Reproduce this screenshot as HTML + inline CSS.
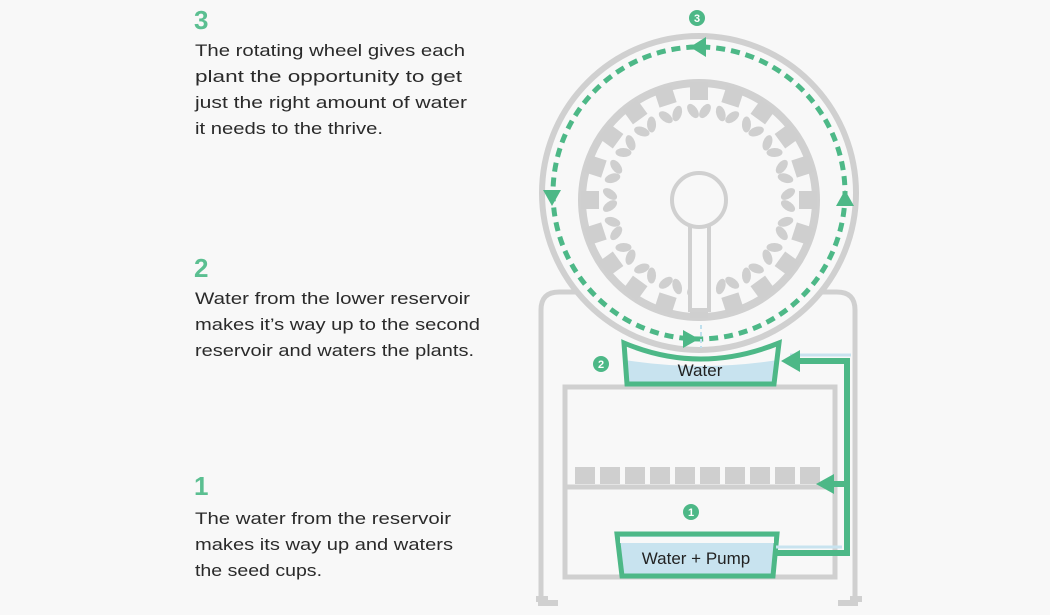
<!DOCTYPE html>
<html><head><meta charset="utf-8"><style>
html,body{margin:0;padding:0;background:#f8f8f8;}
svg{display:block;}
.b{font-family:"Liberation Sans",sans-serif;font-size:17px;fill:#2a2a2a;}
.h{font-family:"Liberation Sans",sans-serif;font-size:26px;font-weight:bold;fill:#5bbf91;}
.n{font-family:"Liberation Sans",sans-serif;font-size:11px;font-weight:bold;fill:#fff;text-anchor:middle;}
</style></head><body>
<svg width="1050" height="615" viewBox="0 0 1050 615" xmlns="http://www.w3.org/2000/svg">
<rect width="1050" height="615" fill="#f8f8f8"/>
<text class="h" x="194" y="29">3</text>
<text class="b" x="195" y="56" textLength="270" lengthAdjust="spacingAndGlyphs">The rotating wheel gives each</text>
<text class="b" x="195" y="82" textLength="267" lengthAdjust="spacingAndGlyphs">plant the opportunity to get</text>
<text class="b" x="195" y="108" textLength="272" lengthAdjust="spacingAndGlyphs">just the right amount of water</text>
<text class="b" x="195" y="134" textLength="188" lengthAdjust="spacingAndGlyphs">it needs to the thrive.</text>
<text class="h" x="194" y="277">2</text>
<text class="b" x="195" y="304" textLength="275" lengthAdjust="spacingAndGlyphs">Water from the lower reservoir</text>
<text class="b" x="195" y="330" textLength="285" lengthAdjust="spacingAndGlyphs">makes it’s way up to the second</text>
<text class="b" x="195" y="356" textLength="279" lengthAdjust="spacingAndGlyphs">reservoir and waters the plants.</text>
<text class="h" x="194" y="495">1</text>
<text class="b" x="195" y="524" textLength="256" lengthAdjust="spacingAndGlyphs">The water from the reservoir</text>
<text class="b" x="195" y="550" textLength="258" lengthAdjust="spacingAndGlyphs">makes its way up and waters</text>
<text class="b" x="195" y="576" textLength="127" lengthAdjust="spacingAndGlyphs">the seed cups.</text>

<g fill="none" stroke="#d0d0d0" stroke-width="5">
<path d="M541 598 V310 Q541 292 559 292 H600"/>
<path d="M855 598 V310 Q855 292 837 292 H800"/>
<rect x="565" y="387" width="270" height="190"/>
<line x1="565" y1="487" x2="835" y2="487"/>
</g>
<rect x="536" y="596" width="12" height="6" fill="#d0d0d0"/>
<rect x="850" y="596" width="12" height="6" fill="#d0d0d0"/>
<rect x="538" y="600" width="20" height="6" fill="#d0d0d0"/>
<rect x="838" y="600" width="20" height="6" fill="#d0d0d0"/>
<g fill="#cfcfcf">
<rect x="575" y="467" width="20" height="17"/><rect x="600" y="467" width="20" height="17"/><rect x="625" y="467" width="20" height="17"/><rect x="650" y="467" width="20" height="17"/><rect x="675" y="467" width="20" height="17"/><rect x="700" y="467" width="20" height="17"/><rect x="725" y="467" width="20" height="17"/><rect x="750" y="467" width="20" height="17"/><rect x="775" y="467" width="20" height="17"/><rect x="800" y="467" width="20" height="17"/>
</g>

<circle cx="699" cy="193" r="157" fill="#f8f8f8" stroke="#d0d0d0" stroke-width="6"/>
<defs>
<g id="cup">
<rect x="-9" y="100" width="18" height="18" fill="#cfcfcf"/>
<ellipse cx="-6" cy="89" rx="4.5" ry="8" transform="rotate(35 -6 89)" fill="#cfcfcf"/>
<ellipse cx="6" cy="89" rx="4.5" ry="8" transform="rotate(-35 6 89)" fill="#cfcfcf"/>
</g>
</defs>
<circle cx="699" cy="200" r="117" fill="none" stroke="#d0d0d0" stroke-width="8"/>
<g transform="translate(699 200)">
<use href="#cup" transform="rotate(0)"/><use href="#cup" transform="rotate(18)"/><use href="#cup" transform="rotate(36)"/><use href="#cup" transform="rotate(54)"/><use href="#cup" transform="rotate(72)"/><use href="#cup" transform="rotate(90)"/><use href="#cup" transform="rotate(108)"/><use href="#cup" transform="rotate(126)"/><use href="#cup" transform="rotate(144)"/><use href="#cup" transform="rotate(162)"/><use href="#cup" transform="rotate(180)"/><use href="#cup" transform="rotate(198)"/><use href="#cup" transform="rotate(216)"/><use href="#cup" transform="rotate(234)"/><use href="#cup" transform="rotate(252)"/><use href="#cup" transform="rotate(270)"/><use href="#cup" transform="rotate(288)"/><use href="#cup" transform="rotate(306)"/><use href="#cup" transform="rotate(324)"/><use href="#cup" transform="rotate(342)"/>
</g>
<g fill="#f8f8f8" stroke="#d0d0d0" stroke-width="4">
<rect x="690" y="225" width="19" height="85"/>
<circle cx="699" cy="200" r="27"/>
</g>
<circle cx="699" cy="193" r="146" fill="none" stroke="#4db887" stroke-width="5" stroke-dasharray="9 6"/>
<g fill="#4db887">
<polygon points="690,47 706,37 706,57"/>
<polygon points="543,190 561,190 552,206"/>
<polygon points="836,206 854,206 845,190"/>
<polygon points="699,339 683,330 683,348"/>
</g>
<line x1="701" y1="325" x2="701" y2="348" stroke="#bfe0ee" stroke-width="2" stroke-dasharray="4 3"/>

<path d="M624 343 Q700 375 779 343 L774 384 H627 Z" fill="#f8f8f8"/>
<path d="M625 360 Q700 372 778 360 L774 384 H627 Z" fill="#c8e3ef"/>
<path d="M624 343 Q700 375 779 343 L774 384 H627 Z" fill="none" stroke="#4db887" stroke-width="5"/>
<text x="700" y="376" font-family="Liberation Sans,sans-serif" font-size="17" fill="#222" text-anchor="middle">Water</text>

<path d="M617 534 H777 L773 576 H622 Z" fill="#c8e3ef" stroke="#4db887" stroke-width="5"/>
<rect x="620" y="537" width="154" height="6" fill="#f8f8f8"/>
<text x="696" y="564" font-family="Liberation Sans,sans-serif" font-size="17" fill="#222" text-anchor="middle">Water + Pump</text>

<path d="M776 553 H847 V361 H800" fill="none" stroke="#4db887" stroke-width="6"/>
<line x1="776" y1="547" x2="842" y2="547" stroke="#c8e3ef" stroke-width="3"/>
<line x1="790" y1="355" x2="851" y2="355" stroke="#c8e3ef" stroke-width="3"/>
<polygon points="781,361 800,350 800,372" fill="#4db887"/>
<line x1="830" y1="484" x2="847" y2="484" stroke="#4db887" stroke-width="6"/>
<polygon points="816,484 834,474 834,494" fill="#4db887"/>

<circle cx="697" cy="18" r="8" fill="#4db887"/><text class="n" x="697" y="22">3</text>
<circle cx="601" cy="364" r="8" fill="#4db887"/><text class="n" x="601" y="368">2</text>
<circle cx="691" cy="512" r="8" fill="#4db887"/><text class="n" x="691" y="516">1</text>
</svg>
</body></html>
